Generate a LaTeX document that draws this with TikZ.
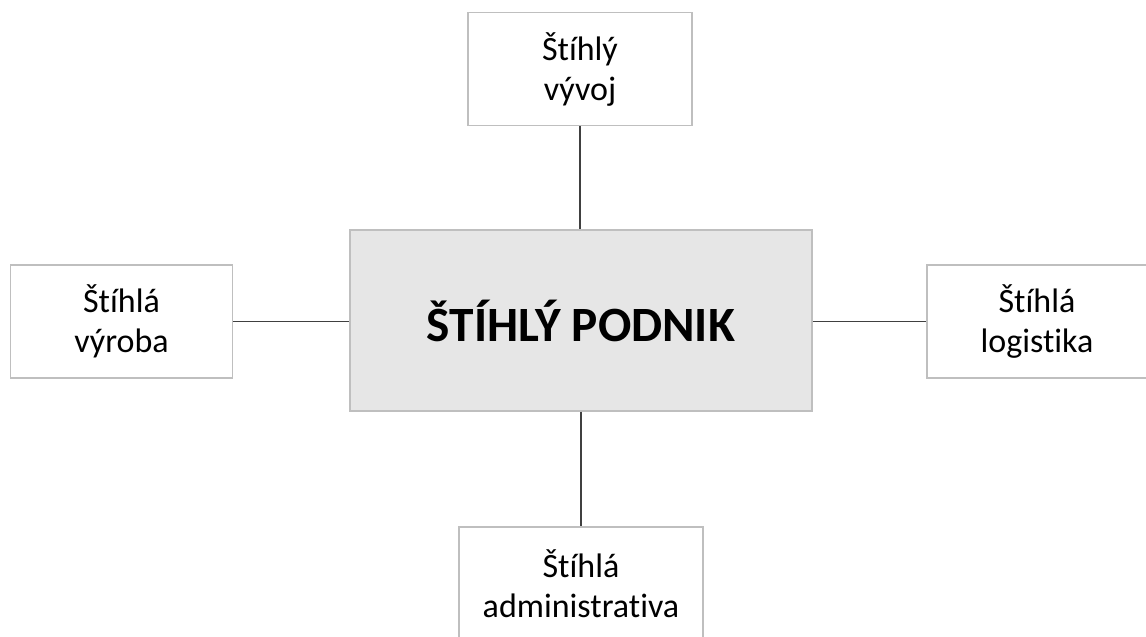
\documentclass[tikz,border=0pt]{standalone}
\usepackage{fontspec}
\setmainfont{Carlito}[Ligatures=NoCommon]
\usetikzlibrary{positioning}
\definecolor{okraj}{HTML}{BFBFBF}
\definecolor{vypln}{HTML}{E6E6E6}
\definecolor{cara}{HTML}{404040}

\begin{document}
\begin{tikzpicture}[x=0.75pt,y=-0.75pt,
		podbox/.style={draw=okraj,line width=0.9pt,fill=white,align=center,
			minimum width=166pt,minimum height=84.75pt,inner sep=0pt,
			font=\fontsize{25.5}{30}\selectfont},
		hlavnibox/.style={draw=okraj,line width=0.9pt,fill=vypln,
			minimum width=346.5pt,minimum height=135.75pt,inner sep=0pt,
			font=\fontsize{37}{44}\selectfont\bfseries},
		spoj/.style={draw=cara,line width=0.8pt}]
			\useasboundingbox (0,0) rectangle (1146,636);
			\node[hlavnibox] (podnik) at (581,320.5) {ŠTÍHLÝ PODNIK};
			\node[podbox,minimum width=168pt] (vyvoj) at (580,69) {Štíhlý\\vývoj};
			\node[podbox] (vyroba) at (121.5,321.5) {Štíhlá\\výroba};
			\node[podbox,minimum width=165pt] (logistika) at (1037,321.5) {Štíhlá\\logistika};
			\node[podbox,minimum width=183pt] (administrativa) at (581,583.5) {Štíhlá\\administrativa};
			\draw[spoj] (vyvoj.south) -- (vyvoj.south |- podnik.north);
			\draw[spoj] (vyroba.east) -- (vyroba.east -| podnik.west);
			\draw[spoj] (podnik.east |- logistika.west) -- (logistika.west);
			\draw[spoj] (podnik.south) -- (administrativa.north);
		\end{tikzpicture}
\end{document}
